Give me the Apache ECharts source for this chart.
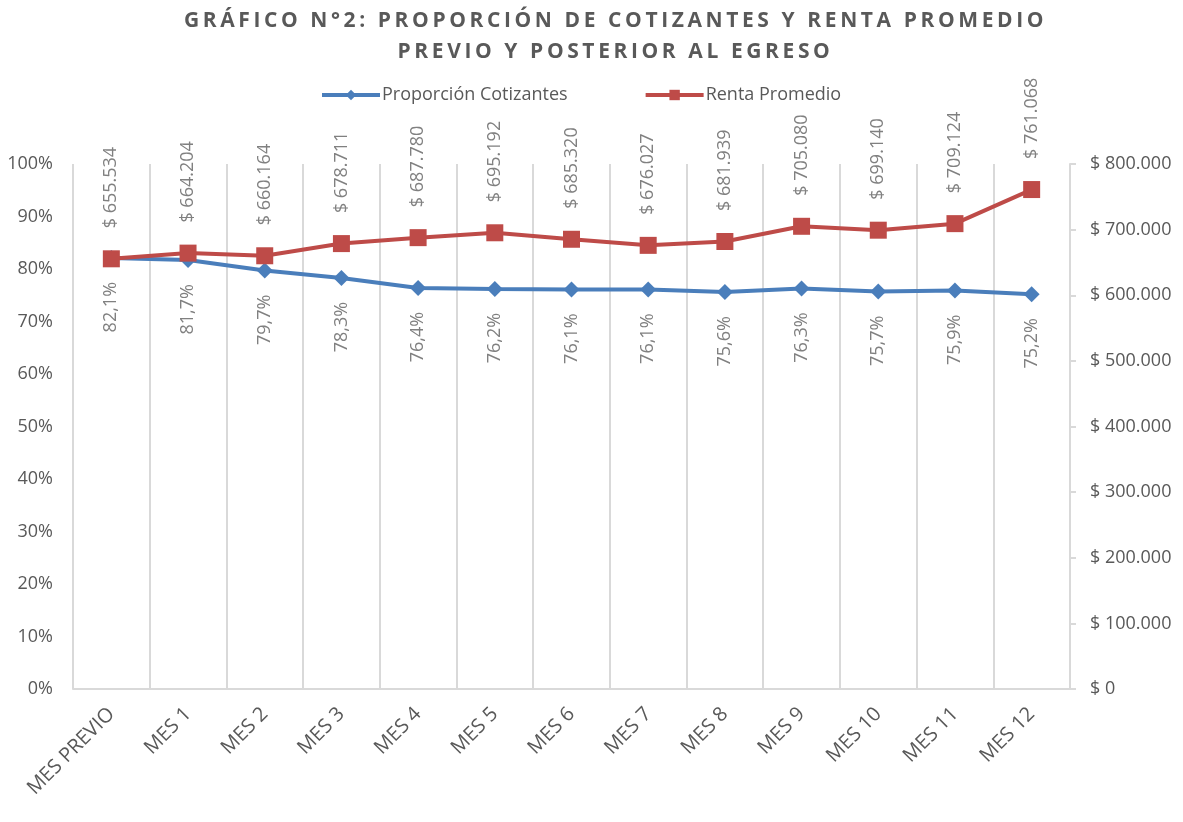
<!DOCTYPE html>
<html>
<head>
<meta charset="utf-8">
<script src="https://cdn.jsdelivr.net/npm/echarts@6/dist/echarts.min.js"></script>
<style>
  html, body { margin: 0; padding: 0; background: #fff; }
  #wrap { position: relative; width: 1183px; height: 822px; }
  #chart { width: 1183px; height: 822px; }
  #titulo {
    position: absolute; left: 48px; top: 4px; width: 1135px;
    text-align: center; font-family: "Open Sans", sans-serif; font-weight: bold;
    font-size: 21px; line-height: 31px; letter-spacing: 3.6px; color: #595959;
    z-index: 2;
  }
</style>
</head>
<body>
<div id="wrap">
  <div id="titulo">GRÁFICO N°2: PROPORCIÓN DE COTIZANTES Y RENTA PROMEDIO<br>PREVIO Y POSTERIOR AL EGRESO</div>
  <div id="chart"></div>
</div>
<script>
var meses = ['MES PREVIO', 'MES 1', 'MES 2', 'MES 3', 'MES 4', 'MES 5', 'MES 6',
  'MES 7', 'MES 8', 'MES 9', 'MES 10', 'MES 11', 'MES 12'];
var proporcion = [82.1, 81.7, 79.7, 78.3, 76.4, 76.2, 76.1, 76.1, 75.6, 76.3, 75.7, 75.9, 75.2];
var renta = [655534, 664204, 660164, 678711, 687780, 695192, 685320, 676027, 681939,
  705080, 699140, 709124, 761068];

var gris = '#595959';
var grisClaro = '#808080';
var fuente = '"Open Sans", sans-serif';

function miles(v) {
  return String(Math.round(v)).replace(/\B(?=(\d{3})+(?!\d))/g, '.');
}

var chart = echarts.init(document.getElementById('chart'));
chart.setOption({
  animation: false,
  legend: {
    top: 81,
    left: 315,
    itemWidth: 58,
    itemHeight: 13,
    itemGap: 76,
    textStyle: { fontFamily: fuente, fontSize: 18, color: gris, padding: [0, 0, 0, -3] },
    data: [
      { name: 'Proporción Cotizantes', lineStyle: { width: 4 } },
      { name: 'Renta Promedio', lineStyle: { width: 4 } }
    ]
  },
  color: ['#4a7ebb', '#be4b48'],
  grid: { left: 73, right: 113, top: 164, bottom: 133 },
  xAxis: {
    type: 'category',
    data: meses,
    boundaryGap: true,
    axisLine: { lineStyle: { color: '#d9d9d9', width: 2 } },
    axisTick: { show: false },
    splitLine: { show: true, lineStyle: { color: '#d9d9d9', width: 2 } },
    axisLabel: {
      rotate: 45,
      interval: 0,
      margin: 22,
      fontFamily: fuente,
      fontSize: 20,
      color: gris
    }
  },
  yAxis: [
    {
      type: 'value',
      min: 0,
      max: 100,
      interval: 10,
      axisLine: { show: false },
      axisTick: { show: false },
      splitLine: { show: false },
      axisLabel: {
        margin: 20,
        fontFamily: fuente,
        fontSize: 18,
        color: gris,
        formatter: '{value}%'
      }
    },
    {
      type: 'value',
      min: 0,
      max: 800000,
      interval: 100000,
      axisLine: { show: true, lineStyle: { color: '#d9d9d9', width: 2 } },
      axisTick: { show: true, length: 6, lineStyle: { color: '#d9d9d9', width: 2 } },
      splitLine: { show: false },
      axisLabel: {
        margin: 20,
        fontFamily: fuente,
        fontSize: 18,
        color: gris,
        formatter: function (v) { return '$ ' + miles(v); }
      }
    }
  ],
  series: [
    {
      name: 'Proporción Cotizantes',
      type: 'line',
      yAxisIndex: 0,
      data: proporcion,
      symbol: 'diamond',
      symbolSize: 16,
      lineStyle: { width: 4 },
      z: 2,
      label: {
        show: true,
        position: 'bottom',
        distance: 16,
        rotate: 90,
        align: 'right',
        verticalAlign: 'middle',
        fontFamily: fuente,
        fontSize: 18,
        color: grisClaro,
        formatter: function (p) { return p.value.toFixed(1).replace('.', ',') + '%'; }
      }
    },
    {
      name: 'Renta Promedio',
      type: 'line',
      yAxisIndex: 1,
      data: renta,
      symbol: 'rect',
      symbolSize: 17,
      lineStyle: { width: 4 },
      z: 3,
      label: {
        show: true,
        position: 'top',
        distance: 22,
        rotate: 90,
        align: 'left',
        verticalAlign: 'middle',
        fontFamily: fuente,
        fontSize: 18,
        color: grisClaro,
        formatter: function (p) { return '$ ' + miles(p.value); }
      }
    }
  ]
});
</script>
</body>
</html>
